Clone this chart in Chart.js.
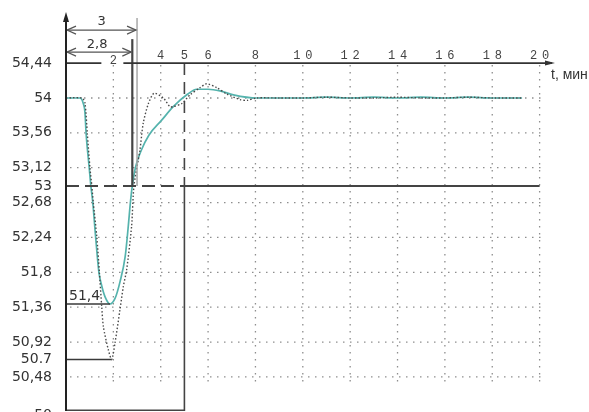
<!DOCTYPE html>
<html>
<head>
<meta charset="utf-8">
<script src="https://cdn.jsdelivr.net/npm/chart.js@4/dist/chart.umd.min.js"></script>
<style>
  html, body { margin: 0; padding: 0; background: #fff; }
  canvas { display: block; }
</style>
</head>
<body>
<canvas id="c" width="589" height="412"></canvas>
<script>
// Transient response: time in minutes, controlled value
const tTeal = [0, 0.59, 0.72, 0.8, 0.85, 0.98, 1.05, 1.13, 1.25, 1.39, 1.5, 1.65, 1.86,
  2.07, 2.28, 2.5, 2.62, 2.73, 2.8, 2.94, 3.18, 3.5, 4.04, 4.53, 5.1, 5.52, 6.0, 6.5,
  7.07, 8.05, 9, 10, 11, 12, 13, 14, 15, 16, 17, 18, 19.26];
const vTeal = [54, 54, 53.94, 53.82, 53.55, 53.12, 53.0, 52.69, 52.25, 51.8, 51.64, 51.49, 51.4,
  51.47, 51.68, 52.0, 52.35, 52.73, 53.0, 53.13, 53.34, 53.53, 53.72, 53.89, 54.04, 54.11, 54.11, 54.09,
  54.04, 54.0, 54.0, 54.0, 54.01, 54.0, 54.01, 54.0, 54.01, 54.0, 54.01, 54.0, 54.0];

const tDotted = [0, 0.68, 0.8, 0.9, 1.01, 1.09, 1.15, 1.3, 1.41, 1.51, 1.58, 1.79, 1.93,
  2.07, 2.28, 2.42, 2.56, 2.77, 2.87, 3.12, 3.26, 3.48, 3.72, 4.11, 4.39, 4.52, 4.89, 5.24,
  5.66, 5.94, 6.37, 6.79, 7.35, 7.65, 8.05, 9, 10, 11, 12, 13, 14, 15, 16, 17, 18, 19.26];
const vDotted = [54, 54, 53.94, 53.55, 53.12, 53.0, 52.69, 52.25, 51.8, 51.36, 51.11, 50.82, 50.7,
  50.91, 51.33, 51.62, 51.83, 52.38, 53.0, 53.34, 53.68, 53.93, 54.06, 54.0, 53.89, 53.89, 53.93, 54.04,
  54.13, 54.18, 54.13, 54.05, 53.98, 53.97, 54.0, 54.0, 54.0, 54.01, 54.0, 54.0, 54.01, 54.0, 54.0, 54.01, 54.0, 54.0];

const yTickValues = [50, 50.48, 50.7, 50.92, 51.36, 51.8, 52.24, 52.68, 53, 53.12, 53.56, 54, 54.44];
const yTickLabels = ['50', '50,48', '50.7', '50,92', '51,36', '51,8', '52,24', '52,68', '53', '53,12', '53,56', '54', '54,44'];
const xTickValues = [2, 4, 5, 6, 8, 10, 12, 14, 16, 18, 20];
const xTickLabels = ['2', '4', '5', '6', '8', '10', '12', '14', '16', '18', '20'];
const gridX = [2, 4, 6, 8, 10, 12, 14, 16, 18, 20];
const gridY = [50.48, 50.92, 51.36, 51.8, 52.24, 52.68, 53.12, 53.56, 54];

const axisLevel = 54.44;   // the time axis runs along this value
const setLevel = 53;       // threshold level
const tCross = 2.8;        // threshold reached
const tPeriod = 3;
const tBox = 5;
const tEnd = 20;
const minTeal = { t: 1.86, v: 51.4, label: '51,4' };
const minDotted = { t: 1.93, v: 50.7 };
const periodLabels = ['3', '2,8'];
const axisTitle = 't, мин';

// the value axis is drawn slightly stretched around the threshold
const warpIn = [52.68, 53, 53.12];
const warpOut = [52.68, 52.89, 53.12];
function interp(v, a, b) {
  if (v == null || isNaN(v) || v <= a[0] || v >= a[a.length - 1]) return v;
  for (let i = 1; i < a.length; i++) {
    if (v <= a[i]) return b[i - 1] + (v - a[i - 1]) / (a[i] - a[i - 1]) * (b[i] - b[i - 1]);
  }
  return v;
}
class WarpScale extends Chart.LinearScale {
  getPixelForValue(v) { return super.getPixelForValue(interp(v, warpIn, warpOut)); }
  getValueForPixel(p) { return interp(super.getValueForPixel(p), warpOut, warpIn); }
}
WarpScale.id = 'warp';
WarpScale.defaults = Chart.LinearScale.defaults;
Chart.register(WarpScale);

function seg(ctx, x1, y1, x2, y2) {
  ctx.beginPath(); ctx.moveTo(x1, y1); ctx.lineTo(x2, y2); ctx.stroke();
}
function chevron(ctx, x, y, dir) {
  ctx.beginPath();
  ctx.moveTo(x + dir * 9, y - 4); ctx.lineTo(x, y); ctx.lineTo(x + dir * 9, y + 4);
  ctx.stroke();
}

const overlay = {
  id: 'overlay',
  beforeDatasetsDraw(chart) {
    const ctx = chart.ctx, xs = chart.scales.x, ys = chart.scales.y;
    const X = v => xs.getPixelForValue(v), Y = v => ys.getPixelForValue(v);
    ctx.save();
    ctx.strokeStyle = '#8e8e8e';
    ctx.lineWidth = 1.3;
    ctx.setLineDash([1.5, 5.5]);
    gridY.forEach(v => seg(ctx, X(0) + 4, Y(v), X(tEnd) + 2, Y(v)));
    gridX.forEach(t => seg(ctx, X(t), Y(axisLevel) + 2, X(t), Y(gridY[0]) + 5));
    ctx.restore();
  },
  afterDatasetsDraw(chart) {
    const ctx = chart.ctx, xs = chart.scales.x, ys = chart.scales.y, area = chart.chartArea;
    const X = v => xs.getPixelForValue(v), Y = v => ys.getPixelForValue(v);
    const ya = Y(axisLevel), x0 = X(0);
    ctx.save();

    // threshold level: dashed up to the box, solid afterwards
    ctx.strokeStyle = '#444';
    ctx.lineWidth = 2;
    ctx.setLineDash([13, 6]);
    seg(ctx, x0, Y(setLevel), X(tBox), Y(setLevel));
    ctx.setLineDash([]);
    seg(ctx, X(tBox), Y(setLevel), X(tEnd), Y(setLevel));

    // box at t = 5
    ctx.lineWidth = 1.6;
    ctx.setLineDash([12, 7]);
    seg(ctx, X(tBox), ya, X(tBox), Y(setLevel));
    ctx.setLineDash([]);
    seg(ctx, X(tBox), Y(setLevel), X(tBox), area.bottom);
    seg(ctx, x0, area.bottom - 0.8, X(tBox), area.bottom - 0.8);

    // minima
    ctx.lineWidth = 1.4;
    ctx.strokeStyle = '#3a3a3a';
    seg(ctx, x0, Y(minTeal.v), X(minTeal.t), Y(minTeal.v));
    seg(ctx, x0, Y(minDotted.v), X(minDotted.t), Y(minDotted.v));

    // period markers
    ctx.strokeStyle = '#a8a8a8';
    ctx.lineWidth = 1.5;
    seg(ctx, X(tPeriod), ya - 45, X(tPeriod), Y(setLevel));
    ctx.strokeStyle = '#444';
    ctx.lineWidth = 2.2;
    seg(ctx, X(tCross), ya - 24, X(tCross), Y(setLevel));

    // dimension arrows
    ctx.strokeStyle = '#555';
    ctx.lineWidth = 1.2;
    const yA = ya - 33, yB = ya - 11;
    seg(ctx, x0 + 1, yA, X(tPeriod) - 1, yA);
    chevron(ctx, x0 + 1, yA, 1); chevron(ctx, X(tPeriod) - 1, yA, -1);
    seg(ctx, x0 + 1, yB, X(tCross) - 1, yB);
    chevron(ctx, x0 + 1, yB, 1); chevron(ctx, X(tCross) - 1, yB, -1);

    // time axis with a gap for the "2" label
    ctx.strokeStyle = '#333';
    ctx.fillStyle = '#333';
    ctx.lineWidth = 1.6;
    seg(ctx, x0, ya, X(2) - 12, ya);
    seg(ctx, X(2) + 10, ya, area.right - 3, ya);
    ctx.beginPath();
    ctx.moveTo(area.right, ya); ctx.lineTo(area.right - 10, ya - 2.5); ctx.lineTo(area.right - 10, ya + 2.5);
    ctx.closePath(); ctx.fill();

    // value axis
    ctx.strokeStyle = '#222';
    ctx.fillStyle = '#222';
    ctx.lineWidth = 2;
    seg(ctx, x0, area.bottom, x0, area.top + 4);
    ctx.beginPath();
    ctx.moveTo(x0, area.top); ctx.lineTo(x0 - 3, area.top + 10); ctx.lineTo(x0 + 3, area.top + 10);
    ctx.closePath(); ctx.fill();

    // texts
    ctx.fillStyle = '#333';
    ctx.textAlign = 'center';
    ctx.textBaseline = 'middle';
    ctx.font = '13px "DejaVu Sans"';
    ctx.fillText(periodLabels[0], (x0 + X(tPeriod)) / 2, ya - 41);
    ctx.fillText(periodLabels[1], (x0 + X(tCross)) / 2 - 2, ya - 18);

    ctx.font = '14px "DejaVu Sans"';
    ctx.textAlign = 'left';
    ctx.textBaseline = 'bottom';
    ctx.fillText(minTeal.label, x0 + 3, Y(minTeal.v) - 1);

    ctx.font = '14px "Liberation Sans"';
    ctx.textBaseline = 'middle';
    ctx.fillText(axisTitle, area.right - 4, ya + 12);

    // time tick labels, widely spaced monospace digits
    ctx.font = '12px "Liberation Mono"';
    ctx.fillStyle = '#444';
    ctx.textAlign = 'center';
    ctx.textBaseline = 'alphabetic';
    const pitch = 12;
    xTickValues.forEach((t, i) => {
      const s = xTickLabels[i];
      const cx = X(t);
      const base = t === 2 ? ya + 0.5 : ya - 4;
      for (let k = 0; k < s.length; k++) {
        ctx.fillText(s[k], cx + (k - (s.length - 1) / 2) * pitch, base);
      }
    });
    ctx.restore();
  }
};

new Chart(document.getElementById('c'), {
  type: 'line',
  data: {
    datasets: [
      {
        data: tDotted.map((t, i) => ({ x: t, y: vDotted[i] })),
        borderColor: '#4a4a4a',
        borderWidth: 1.4,
        borderDash: [1.5, 2],
        pointRadius: 0,
        tension: 0.25,
        order: 0
      },
      {
        data: tTeal.map((t, i) => ({ x: t, y: vTeal[i] })),
        borderColor: '#55b3ad',
        borderWidth: 1.7,
        pointRadius: 0,
        cubicInterpolationMode: 'monotone',
        order: 1
      }
    ]
  },
  options: {
    responsive: false,
    animation: false,
    devicePixelRatio: 1,
    layout: { padding: { left: 0, top: 12, right: 34, bottom: 1 } },
    plugins: { legend: { display: false }, tooltip: { enabled: false } },
    scales: {
      x: { type: 'linear', min: 0, max: 20.65, display: false },
      y: {
        type: 'warp',
        position: 'left',
        min: 50.05,
        max: 55.085,
        grid: { display: false, drawTicks: false },
        border: { display: false },
        afterBuildTicks: s => { s.ticks = yTickValues.map(v => ({ value: v })); },
        afterFit: s => { s.width = 66; s.paddingTop = 0; s.paddingBottom = 0; },
        ticks: {
          autoSkip: false,
          padding: 14,
          color: '#333',
          font: { family: 'DejaVu Sans', size: 14 },
          callback: (v, i) => yTickLabels[i]
        }
      }
    }
  },
  plugins: [overlay]
});
</script>
</body>
</html>
